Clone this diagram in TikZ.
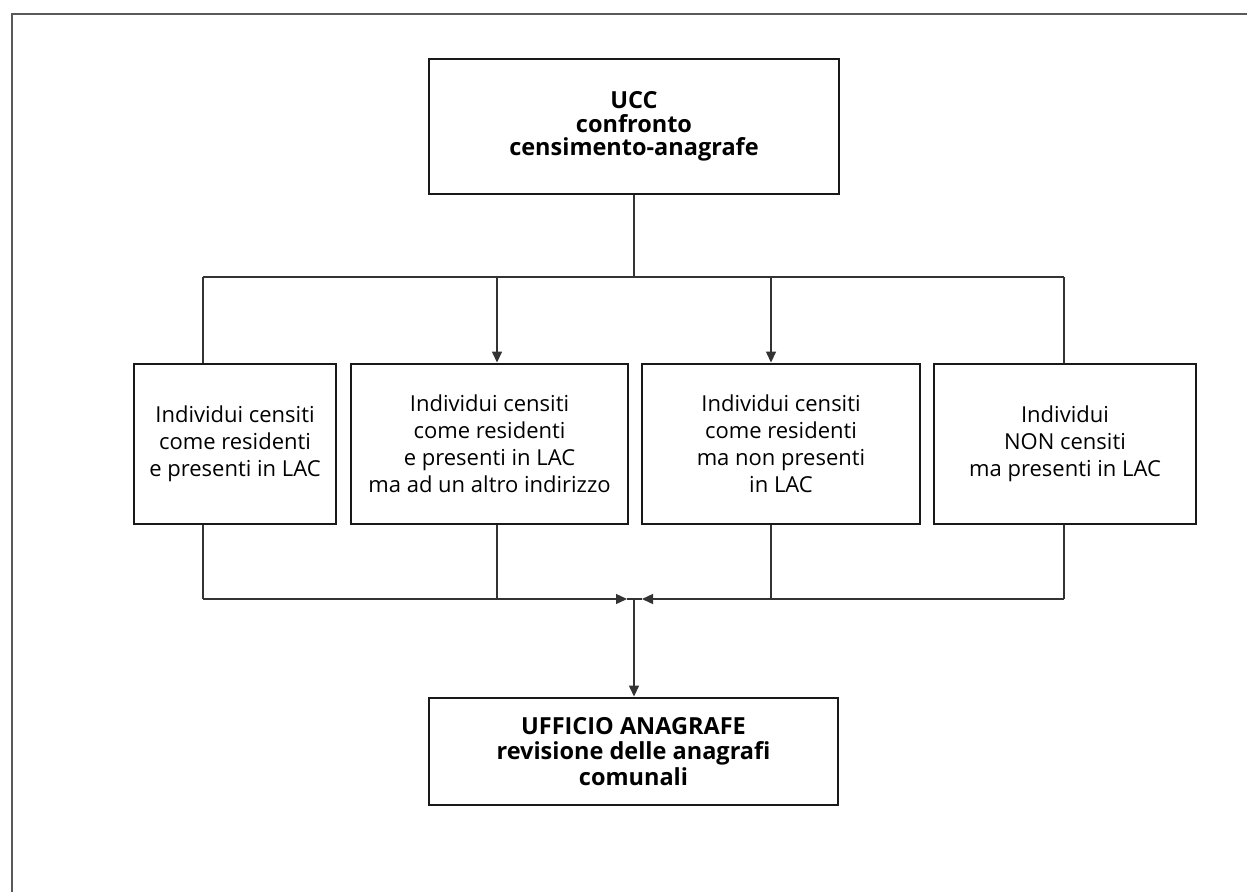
\documentclass[tikz,border=0pt]{standalone}
\usepackage{fontspec}
\setmainfont{Open Sans}
\usetikzlibrary{arrows.meta}
\begin{document}
\begin{tikzpicture}[x=1pt,y=-1pt,
  box/.style={draw=black!90, line width=2.9pt, align=center, inner sep=0pt,
    font=\fontsize{22}{27}\selectfont},
  bbox/.style={box, font=\fontsize{23.5}{23.5}\selectfont\bfseries},
  conn/.style={draw=black!80, line width=1.4pt},
  arr/.style={conn, -{Triangle[length=11pt,width=10pt]}},
  frame/.style={draw=black!65, line width=2pt}]
\useasboundingbox (0,0) rectangle (1247,892);
% outer frame
\coordinate (fa) at (11.5,892);
\coordinate (fb) at (11.5,14);
\coordinate (fc) at (1247,14);
\draw[frame] (fa) -- (fb) -- (fc);
% boxes
\node[bbox, minimum width=410pt, minimum height=135pt] (top) at (634,126.5)
  {UCC\\confronto\\censimento-anagrafe};
\node[box, minimum width=202pt, minimum height=160pt] (b1) at (235,444)
  {Individui censiti\\come residenti\\e presenti in LAC};
\node[box, minimum width=277pt, minimum height=160pt] (b2) at (489.5,444)
  {Individui censiti\\come residenti\\e presenti in LAC\\ma ad un altro indirizzo};
\node[box, minimum width=278pt, minimum height=160pt] (b3) at (781,444)
  {Individui censiti\\come residenti\\ma non presenti\\in LAC};
\node[box, minimum width=262pt, minimum height=160pt] (b4) at (1065,444)
  {Individui\\NON censiti\\ma presenti in LAC};
\node[bbox, font=\fontsize{23.5}{25.5}\selectfont\bfseries,
  minimum width=409pt, minimum height=107pt] (bot) at (633.5,751.5)
  {UFFICIO ANAGRAFE\\revisione delle anagrafi\\comunali};
% upper bus
\coordinate (tj) at (634,277);
\coordinate (t1) at (203,277);
\coordinate (t2) at (497,277);
\coordinate (t3) at (771,277);
\coordinate (t4) at (1064,277);
\draw[conn] (top.south) -- (tj);
\draw[conn] (t1) -- (t4);
\draw[conn] (t1) -- (t1 |- b1.north);
\draw[arr] (t2) -- (t2 |- b2.north);
\draw[arr] (t3) -- (t3 |- b3.north);
\draw[conn] (t4) -- (t4 |- b4.north);
% lower bus
\coordinate (u1) at (203,599);
\coordinate (u2) at (497,599);
\coordinate (u3) at (771,599);
\coordinate (u4) at (1064,599);
\coordinate (ul) at (627,599);
\coordinate (ur) at (642,599);
\coordinate (uj) at (634,599);
\draw[conn] (u1 |- b1.south) -- (u1);
\draw[conn] (u2 |- b2.south) -- (u2);
\draw[conn] (u3 |- b3.south) -- (u3);
\draw[conn] (u4 |- b4.south) -- (u4);
\draw[arr] (u1) -- (ul);
\draw[arr] (u4) -- (ur);
\draw[conn] (ul) -- (ur);
\draw[arr] (uj) -- (uj |- bot.north);
\end{tikzpicture}
\end{document}
